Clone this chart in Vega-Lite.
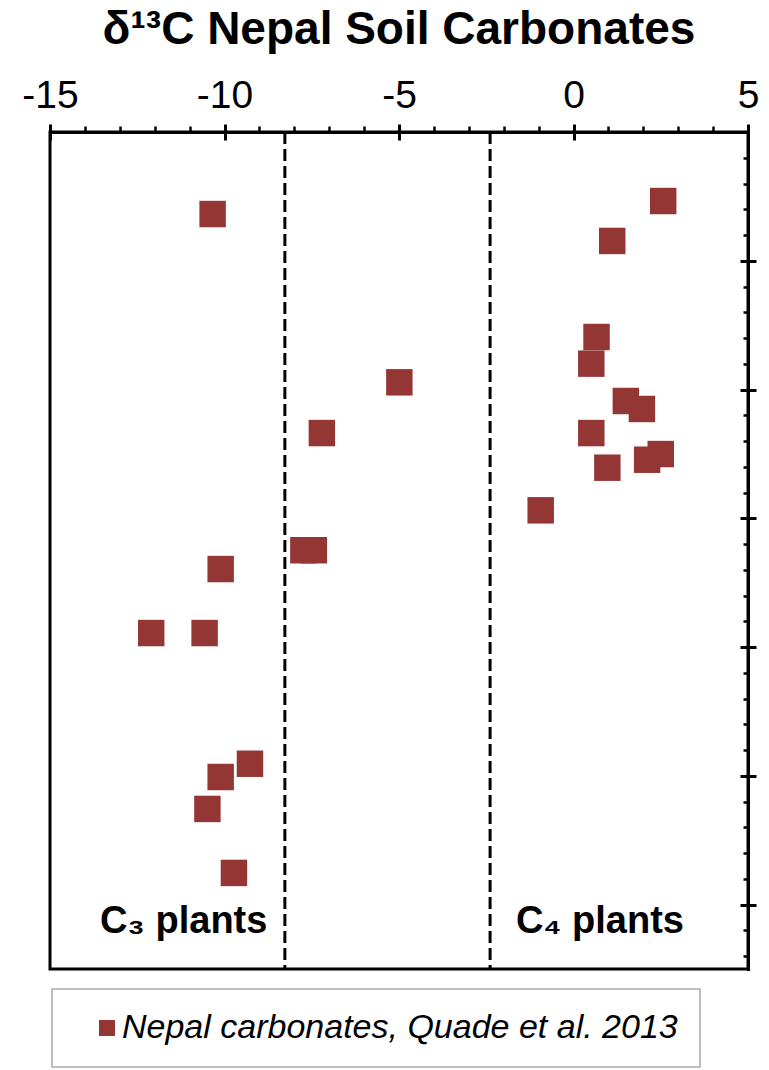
{
  "$schema": "https://vega.github.io/schema/vega-lite/v6.json",
  "width": 698,
  "height": 837,
  "autosize": "none",
  "padding": {"left": 50, "top": 132, "right": 21, "bottom": 101},
  "background": "white",
  "title": {"text": "δ¹³C Nepal Soil Carbonates", "fontSize": 46, "font": "Liberation Sans", "fontWeight": "bold", "anchor": "middle", "offset": 22, "color": "black"},
  "datasets": {
    "points": [
      {"d13C": -10.34, "pos": 0.637, "series": "Nepal carbonates, Quade et al. 2013"},
      {"d13C": 2.57, "pos": 0.536, "series": "Nepal carbonates, Quade et al. 2013"},
      {"d13C": 1.11, "pos": 0.846, "series": "Nepal carbonates, Quade et al. 2013"},
      {"d13C": 0.66, "pos": 1.592, "series": "Nepal carbonates, Quade et al. 2013"},
      {"d13C": 0.51, "pos": 1.799, "series": "Nepal carbonates, Quade et al. 2013"},
      {"d13C": -4.99, "pos": 1.944, "series": "Nepal carbonates, Quade et al. 2013"},
      {"d13C": 1.5, "pos": 2.089, "series": "Nepal carbonates, Quade et al. 2013"},
      {"d13C": 1.96, "pos": 2.151, "series": "Nepal carbonates, Quade et al. 2013"},
      {"d13C": -7.21, "pos": 2.338, "series": "Nepal carbonates, Quade et al. 2013"},
      {"d13C": 0.51, "pos": 2.338, "series": "Nepal carbonates, Quade et al. 2013"},
      {"d13C": 2.5, "pos": 2.501, "series": "Nepal carbonates, Quade et al. 2013"},
      {"d13C": 2.11, "pos": 2.545, "series": "Nepal carbonates, Quade et al. 2013"},
      {"d13C": 0.97, "pos": 2.607, "series": "Nepal carbonates, Quade et al. 2013"},
      {"d13C": -0.94, "pos": 2.938, "series": "Nepal carbonates, Quade et al. 2013"},
      {"d13C": -7.74, "pos": 3.248, "series": "Nepal carbonates, Quade et al. 2013"},
      {"d13C": -7.44, "pos": 3.248, "series": "Nepal carbonates, Quade et al. 2013"},
      {"d13C": -10.11, "pos": 3.394, "series": "Nepal carbonates, Quade et al. 2013"},
      {"d13C": -12.1, "pos": 3.891, "series": "Nepal carbonates, Quade et al. 2013"},
      {"d13C": -10.57, "pos": 3.891, "series": "Nepal carbonates, Quade et al. 2013"},
      {"d13C": -9.27, "pos": 4.906, "series": "Nepal carbonates, Quade et al. 2013"},
      {"d13C": -10.11, "pos": 5.009, "series": "Nepal carbonates, Quade et al. 2013"},
      {"d13C": -10.49, "pos": 5.257, "series": "Nepal carbonates, Quade et al. 2013"},
      {"d13C": -9.73, "pos": 5.754, "series": "Nepal carbonates, Quade et al. 2013"}
    ],
    "dividers": [
      {"d13C": -8.27, "top": 0, "bottom": 6.5},
      {"d13C": -2.39, "top": 0, "bottom": 6.5}
    ],
    "labels": [
      {"d13C": -13.57, "pos": 6.22, "label": "C₃ plants"},
      {"d13C": -1.65, "pos": 6.22, "label": "C₄ plants"}
    ]
  },
  "layer": [
    {
      "data": {"name": "dividers"},
      "mark": {"type": "rule", "color": "black", "strokeWidth": 3, "strokeDash": [12, 5]},
      "encoding": {
        "x": {"field": "d13C", "type": "quantitative",
          "scale": {"domain": [-15, 5], "nice": false, "zero": false},
          "axis": {"orient": "top", "values": [-15, -10, -5, 0, 5], "title": null, "labels": false, "domain": false, "grid": false, "tickSize": -8, "tickWidth": 3, "tickColor": "black"}},
        "y": {"field": "top", "type": "quantitative",
          "scale": {"domain": [0, 6.5], "reverse": true, "nice": false, "zero": false},
          "axis": {"orient": "right", "values": [1, 2, 3, 4, 5, 6], "title": null, "labels": false, "domain": false, "grid": false, "tickSize": -8, "tickWidth": 3, "tickColor": "black"}},
        "y2": {"field": "bottom"}
      }
    },
    {
      "data": {"name": "labels"},
      "mark": {"type": "text", "font": "Liberation Sans", "fontSize": 38, "fontWeight": "bold", "align": "left", "baseline": "alphabetic", "color": "black"},
      "encoding": {
        "x": {"field": "d13C", "type": "quantitative",
          "scale": {"domain": [-15, 5], "nice": false, "zero": false},
          "axis": {"orient": "top", "values": [-14, -13, -12, -11, -9, -8, -7, -6, -4, -3, -2, -1, 1, 2, 3, 4], "title": null, "labels": false, "domain": false, "grid": false, "tickSize": 6, "tickWidth": 2.5, "tickColor": "black"}},
        "y": {"field": "pos", "type": "quantitative",
          "scale": {"domain": [0, 6.5], "reverse": true, "nice": false, "zero": false},
          "axis": {"orient": "right", "values": [0.2, 0.4, 0.6, 0.8, 1.2, 1.4, 1.6, 1.8, 2.2, 2.4, 2.6, 2.8, 3.2, 3.4, 3.6, 3.8, 4.2, 4.4, 4.6, 4.8, 5.2, 5.4, 5.6, 5.8, 6.2, 6.4], "title": null, "labels": false, "domain": false, "grid": false, "tickSize": -5, "tickWidth": 2.5, "tickColor": "black"}},
        "text": {"field": "label", "type": "nominal"}
      }
    },
    {
      "data": {"name": "points"},
      "mark": {"type": "point", "shape": "square", "filled": true, "size": 700, "opacity": 1},
      "encoding": {
        "x": {"field": "d13C", "type": "quantitative",
          "scale": {"domain": [-15, 5], "nice": false, "zero": false},
          "axis": {"orient": "top", "values": [-15, -10, -5, 0, 5], "labelExpr": "'' + datum.value", "title": null, "grid": false, "tickSize": 8, "tickWidth": 3, "tickColor": "black", "domainColor": "black", "domainWidth": 3, "labelFont": "Liberation Sans", "labelFontSize": 39, "labelColor": "black", "labelPadding": 9, "labelFlush": false}},
        "y": {"field": "pos", "type": "quantitative",
          "scale": {"domain": [0, 6.5], "reverse": true, "nice": false, "zero": false},
          "axis": {"orient": "right", "values": [1, 2, 3, 4, 5, 6], "title": null, "labels": false, "grid": false, "tickSize": 8, "tickWidth": 3, "tickColor": "black", "domainColor": "black", "domainWidth": 3}},
        "color": {"field": "series", "type": "nominal",
          "scale": {"range": ["#943634"]},
          "legend": {"orient": "none", "legendX": 2, "legendY": 857, "title": null, "symbolType": "square", "symbolSize": 256, "symbolStrokeWidth": 0, "symbolOpacity": 1, "labelFont": "Liberation Sans", "labelFontSize": 34, "labelFontStyle": "italic", "labelColor": "black", "labelLimit": 800, "padding": 22, "strokeColor": "#bfbfbf", "symbolOffset": 16, "labelOffset": -2,
            "encode": {"legend": {"update": {"strokeWidth": {"value": 2}}}}}}
      }
    }
  ],
  "resolve": {"axis": {"x": "independent", "y": "independent"}},
  "config": {
    "view": {"stroke": "black", "strokeWidth": 3},
    "axis": {"domainCap": "square"}
  }
}
